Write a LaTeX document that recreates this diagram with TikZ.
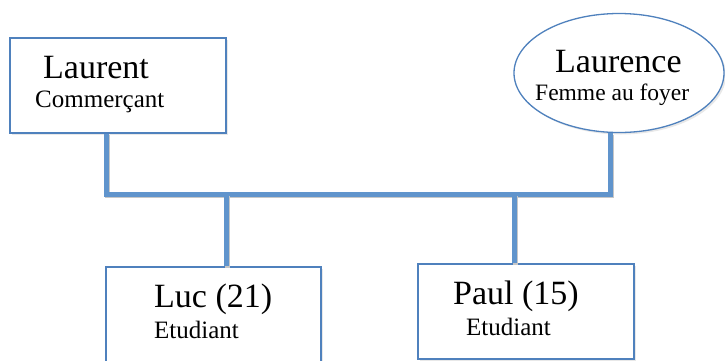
\documentclass[tikz,border=0pt]{standalone}
\usepackage{fontspec}
\setmainfont{Liberation Serif}
\usetikzlibrary{shapes.geometric,shadows}
\definecolor{frameblue}{RGB}{79,129,189}
\definecolor{linkblue}{RGB}{96,148,204}
\tikzset{
  person/.style={draw=frameblue, line width=1.3pt, fill=white, inner sep=0pt,
    drop shadow={opacity=0.18, shadow xshift=2pt, shadow yshift=-2pt}},
  namefont/.style={font=\fontsize{34}{38}\selectfont, anchor=base west, inner sep=0pt},
  jobfont/.style={font=\fontsize{25}{28}\selectfont, anchor=base west, inner sep=0pt},
  link/.style={draw=linkblue, line width=5pt,
    preaction={draw=black!22, line width=5pt, transform canvas={shift={(1.6pt,-1.6pt)}}}}
}
\begin{document}
\begin{tikzpicture}[x=1pt, y=-1pt]
  \useasboundingbox (0,0) rectangle (725,360);
  \clip (0,0) rectangle (725,360);
  % parents
  \node[person, rectangle, minimum width=216pt, minimum height=95pt] (laurent) at (118,85.5) {};
  \node[person, ellipse, minimum width=210pt, minimum height=119pt] (laurence) at (619,73) {};
  % children
  \node[person, rectangle, minimum width=215pt, minimum height=110pt] (luc) at (213.5,322) {};
  \node[person, rectangle, minimum width=216pt, minimum height=95pt] (paul) at (526,311.5) {};
  % labels
  \node[namefont] (laurentname) at (43,78) {Laurent};
  \node[jobfont] (laurentjob) at (35,107) {Commerçant};
  \node[namefont] (laurencename) at (555,72) {Laurence};
  \node[jobfont, font=\fontsize{23.5}{27}\selectfont] (laurencejob) at (535,100) {Femme au foyer};
  \node[namefont] (lucname) at (154,307) {Luc (21)};
  \node[jobfont] (lucjob) at (154,338) {Etudiant};
  \node[namefont] (paulname) at (453,304) {Paul (15)};
  \node[jobfont] (pauljob) at (466,335) {Etudiant};
  % family links
  \coordinate (jl) at (106,194);
  \coordinate (jr) at (610,194);
  \coordinate (jluc) at (226,194);
  \coordinate (jpaul) at (514,194);
  \draw[link] (jl |- laurent.south) -- (jl) -- (jr) -- (jr |- laurence.south);
  \draw[link] (jluc) -- (jluc |- luc.north);
  \draw[link] (jpaul) -- (jpaul |- paul.north);
\end{tikzpicture}
\end{document}
